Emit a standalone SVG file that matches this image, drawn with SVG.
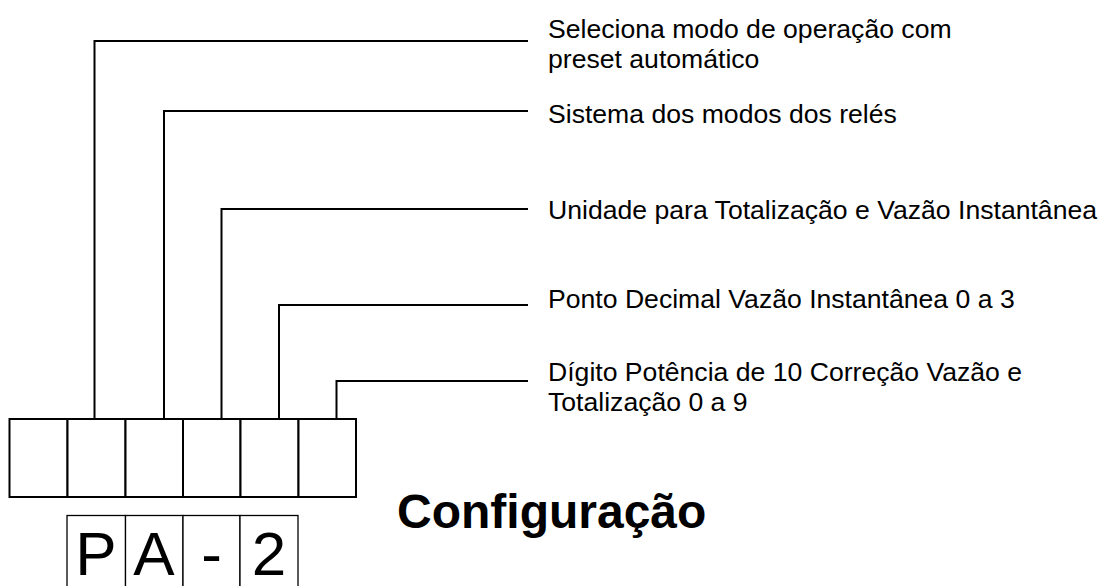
<svg xmlns="http://www.w3.org/2000/svg" width="1108" height="586" viewBox="0 0 1108 586">
<style>
.lbl{font-family:"Liberation Sans",Arial,sans-serif;font-size:26.6px;fill:#000}
.big{font-family:"Liberation Sans",Arial,sans-serif;font-size:62px;fill:#000;text-anchor:middle}
.title{font-family:"Liberation Sans",Arial,sans-serif;font-size:48px;font-weight:bold;fill:#000}
.conn{fill:none;stroke:#000;stroke-width:2}
.cell{fill:#fff;stroke:#000;stroke-width:2}
.dcell{fill:#fff;stroke:#000;stroke-width:1.3}
</style>
<rect width="1108" height="586" fill="#fff"/>
<g id="connectors">
<polyline class="conn" points="94.5,419 94.5,41 528,41"/>
<polyline class="conn" points="164,419 164,111 528,111"/>
<polyline class="conn" points="221.5,419 221.5,209 528,209"/>
<polyline class="conn" points="279,419 279,305 528,305"/>
<polyline class="conn" points="336.5,419 336.5,381 528,381"/>
</g>
<g id="config-cells">
<rect class="cell" x="9.5" y="419" width="58" height="78"/>
<rect class="cell" x="67.5" y="419" width="58" height="78"/>
<rect class="cell" x="125.5" y="419" width="57.5" height="78"/>
<rect class="cell" x="183" y="419" width="57.5" height="78"/>
<rect class="cell" x="240.5" y="419" width="58" height="78"/>
<rect class="cell" x="298.5" y="419" width="57.5" height="78"/>
</g>
<g id="display">
<rect class="dcell" x="67" y="515.5" width="58.5" height="80"/>
<rect class="dcell" x="125.5" y="515.5" width="57.5" height="80"/>
<rect class="dcell" x="183" y="515.5" width="57" height="80"/>
<rect class="dcell" x="240" y="515.5" width="58" height="80"/>
<text class="big" x="96" y="575">P</text>
<text class="big" x="154" y="575">A</text>
<text class="big" x="211.5" y="575">-</text>
<text class="big" x="269" y="575">2</text>
</g>
<g id="label1"><text class="lbl" x="548" y="38">Seleciona modo de operação com</text><text class="lbl" x="548" y="68">preset automático</text></g>
<g id="label2"><text class="lbl" x="548" y="123">Sistema dos modos dos relés</text></g>
<g id="label3"><text class="lbl" x="548" y="219">Unidade para Totalização e Vazão Instantânea</text></g>
<g id="label4"><text class="lbl" x="548" y="308">Ponto Decimal Vazão Instantânea 0 a 3</text></g>
<g id="label5"><text class="lbl" x="548" y="381">Dígito Potência de 10 Correção Vazão e</text><text class="lbl" x="548" y="411">Totalização 0 a 9</text></g>
<g id="title"><text class="title" x="397" y="528">Configuração</text></g>
</svg>
